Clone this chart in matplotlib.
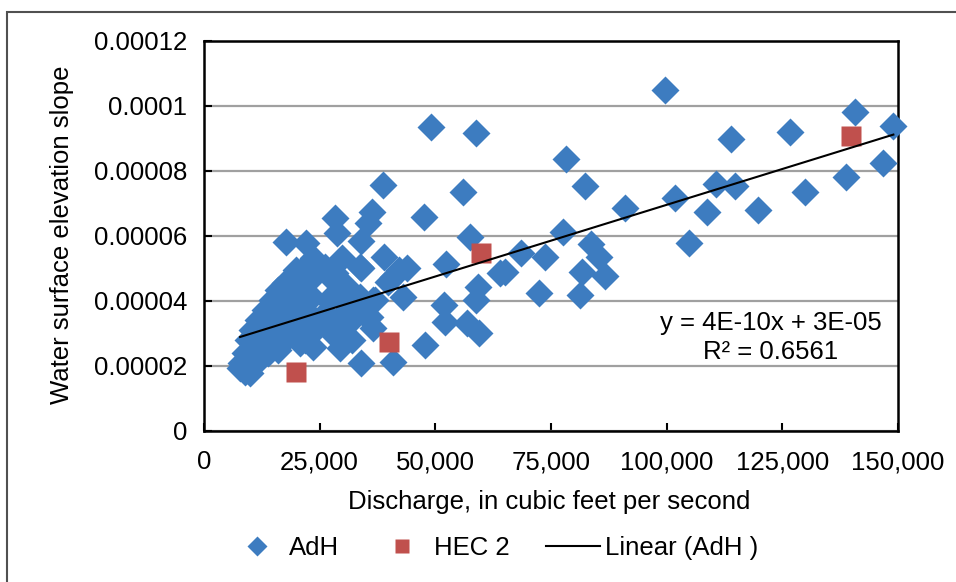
import numpy as np
import matplotlib.pyplot as plt
from matplotlib.patches import Rectangle
from matplotlib.lines import Line2D
from matplotlib.ticker import FuncFormatter

plt.rcParams['font.family'] = ['Liberation Sans', 'DejaVu Sans']

# AdH model runs: discharge (cfs) and water surface slope
adh_q = [
    99600, 140800, 149000, 58700, 126600, 113800, 146800, 138700, 129900, 78200,
    82300, 55900, 110700, 114800, 101800, 91000, 108800, 119800, 104800, 77500,
    83600, 85400, 81700, 86600, 73700, 68600, 65100, 64000, 72300, 81200,
    57600, 52200, 59300, 58700, 51900, 52100, 56800, 59500, 49000,
    38600, 47500, 28400, 36400, 35500, 28700, 17700, 22000, 33900, 38900,
    29900, 33900, 42200, 43800, 40900, 39800, 43000, 47800, 40900, 33900,
    29400, 23600, 35900, 36600, 33700, 37000, 30800, 30100, 27600, 20800,
    13900, 7800, 9900, 11400,
    23600, 21800, 26200, 28300, 23600, 20400, 29800, 17500, 16100, 21100,
    14600, 19000, 23300, 26900, 31200, 13200, 17500, 21800, 26200, 30500,
    11700, 16100, 20400, 24700, 29000, 10300, 14600, 19000, 23300, 9600,
    13200, 17500, 21800, 8900, 12500, 16100, 8100, 11700, 8900, 32600,
    31900, 33700, 27900, 30800, 36600, 35200, 19800,
]
adh_slope = [
    1.048e-4, 9.80e-5, 9.38e-5, 9.17e-5, 9.20e-5, 8.97e-5, 8.25e-5, 7.80e-5, 7.34e-5, 8.35e-5,
    7.54e-5, 7.33e-5, 7.58e-5, 7.53e-5, 7.17e-5, 6.85e-5, 6.73e-5, 6.80e-5, 5.78e-5, 6.12e-5,
    5.74e-5, 5.35e-5, 4.87e-5, 4.76e-5, 5.33e-5, 5.48e-5, 4.89e-5, 4.84e-5, 4.25e-5, 4.17e-5,
    5.97e-5, 5.13e-5, 4.41e-5, 4.02e-5, 3.87e-5, 3.35e-5, 3.30e-5, 3.00e-5, 9.35e-5,
    7.56e-5, 6.58e-5, 6.53e-5, 6.74e-5, 6.38e-5, 6.07e-5, 5.82e-5, 5.77e-5, 5.85e-5, 5.35e-5,
    5.30e-5, 5.00e-5, 4.94e-5, 5.00e-5, 4.74e-5, 4.58e-5, 4.12e-5, 2.64e-5, 2.12e-5, 2.07e-5,
    2.54e-5, 2.58e-5, 3.51e-5, 3.15e-5, 4.12e-5, 4.02e-5, 3.71e-5, 3.20e-5, 3.00e-5, 2.69e-5,
    2.38e-5, 1.93e-5, 1.77e-5, 2.12e-5,
    5.30e-5, 5.05e-5, 5.05e-5, 4.84e-5, 4.74e-5, 4.74e-5, 4.43e-5, 4.54e-5, 4.33e-5, 4.33e-5,
    4.02e-5, 4.02e-5, 4.12e-5, 4.02e-5, 3.92e-5, 3.71e-5, 3.71e-5, 3.71e-5, 3.61e-5, 3.51e-5,
    3.41e-5, 3.41e-5, 3.30e-5, 3.30e-5, 3.20e-5, 3.10e-5, 3.10e-5, 3.00e-5, 3.00e-5, 2.79e-5,
    2.79e-5, 2.79e-5, 2.79e-5, 2.38e-5, 2.38e-5, 2.48e-5, 2.07e-5, 2.18e-5, 1.82e-5, 3.51e-5,
    2.79e-5, 5.05e-5, 4.64e-5, 4.43e-5, 4.02e-5, 3.51e-5, 4.95e-5,
]

# HEC-2 results
hec_q = [19950, 39900, 59900, 139800]
hec_slope = [1.82e-5, 2.72e-5, 5.46e-5, 9.08e-5]

# linear trendline on the AdH series
trend_slope = 4.41e-10
trend_intercept = 2.54e-5
trend_r2 = 0.6561

x_ticks = [0, 25000, 50000, 75000, 100000, 125000, 150000]
y_ticks = [0, 0.00002, 0.00004, 0.00006, 0.00008, 0.0001, 0.00012]

blue = '#3D7CC0'
red = '#C0504D'
fs = 18.5

fig = plt.figure(figsize=(9.56, 5.82), dpi=100)
ax = fig.add_axes([204 / 956, 1 - 430.7 / 582, 694 / 956, 390 / 582])

# chart area border
fig.add_artist(Rectangle((7 / 956, -0.1), 1.2, 1.1 - 12 / 582, transform=fig.transFigure,
                         fill=False, edgecolor='#505050', lw=1.5, clip_on=False))

ax.plot(adh_q, adh_slope, 'D', ms=14.4, color=blue, mec='none', zorder=3, clip_on=False)
ax.plot(hec_q, hec_slope, 's', ms=14, color=red, mec='none', zorder=4, clip_on=False)

xfit = np.array([min(adh_q), max(adh_q)])
ax.plot(xfit, trend_slope * xfit + trend_intercept, color='black', lw=1.5, zorder=5)

# equation label, rounded to one significant digit
eq = f'y = {trend_slope:.0E}x + {trend_intercept:.0E}'
fig.text(771 / 956, 1 - 323 / 582, eq, fontsize=fs, ha='center', va='center')
fig.text(771 / 956, 1 - 352 / 582, f'R² = {trend_r2}', fontsize=fs, ha='center', va='center')

ax.set_xlim(0, 150000)
ax.set_ylim(0, 0.00012)
ax.set_xticks(x_ticks)
ax.set_yticks(y_ticks)
ax.xaxis.set_major_formatter(FuncFormatter(lambda v, p: f'{v:,.0f}'))
ax.yaxis.set_major_formatter(FuncFormatter(lambda v, p: f'{v:.5f}'.rstrip('0').rstrip('.')))
ax.tick_params(direction='in', length=6, width=1.5, labelsize=fs, color='black')
ax.tick_params(axis='x', pad=14)
ax.tick_params(axis='y', pad=12)
ax.grid(axis='y', color='#A0A0A0', lw=1.6, zorder=0)
ax.set_axisbelow(True)
for s in ax.spines.values():
    s.set_linewidth(1.8)
    s.set_color('black')

fig.text(62 / 956, 1 - 235 / 582, 'Water surface elevation slope', rotation=90,
         fontsize=fs, ha='center', va='center')
fig.text(549 / 956, 1 - 502 / 582, 'Discharge, in cubic feet per second',
         fontsize=fs, ha='center', va='center')

handles = [
    Line2D([], [], marker='D', ls='none', ms=10.5, color=blue, mec='none'),
    Line2D([], [], marker='s', ls='none', ms=10.5, color=red, mec='none'),
    Line2D([], [], color='black', lw=1.5),
]
fig.legend(handles, ['AdH', 'HEC 2', 'Linear (AdH )'], loc='center',
           bbox_to_anchor=(494 / 956, 1 - 548 / 582), ncol=3, frameon=False,
           fontsize=fs, handlelength=2.1, handletextpad=0.2, columnspacing=1.4)

fig.savefig('out.png', dpi=100)
